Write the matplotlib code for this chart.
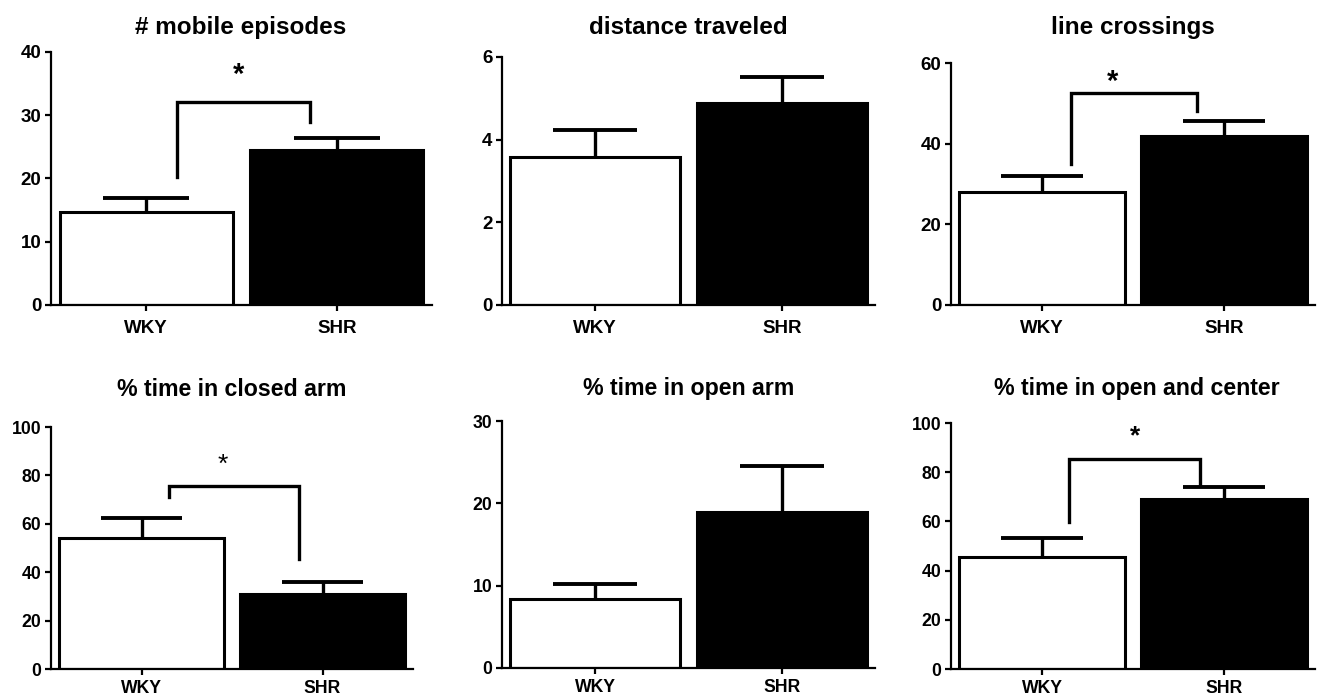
import numpy as np
import matplotlib
matplotlib.use("Agg")
import matplotlib.pyplot as plt

plt.rcParams['font.family'] = ['Liberation Sans', 'DejaVu Sans']
plt.rcParams['font.weight'] = 'bold'

groups = ["WKY", "SHR"]
titles = ["# mobile episodes", "distance traveled", "line crossings",
          "% time in closed arm", "% time in open arm", "% time in open and center"]

mobile_mean = [14.7, 24.5]
mobile_err = [2.2, 1.9]
distance_mean = [3.59, 4.88]
distance_err = [0.64, 0.64]
crossings_mean = [27.9, 42.0]
crossings_err = [4.1, 3.7]
closed_mean = [54.1, 31.0]
closed_err = [8.2, 5.1]
open_mean = [8.36, 18.97]
open_err = [1.84, 5.53]
center_mean = [45.7, 69.1]
center_err = [7.7, 4.9]

y_max = [40, 6, 60, 100, 30, 100]
y_step = [10, 2, 20, 20, 10, 20]

# significance brackets: (top y, left leg end, right leg end, star y)
brackets = {
    0: (32.1, 20.3, 28.9, 36.4),
    2: (52.5, 34.9, 48.2, 55.2),
    3: (75.8, 71.0, 45.4, 84.3),
    5: (85.5, 59.7, 75.3, 94.7),
}

means = [mobile_mean, distance_mean, crossings_mean, closed_mean, open_mean, center_mean]
errs = [mobile_err, distance_err, crossings_err, closed_err, open_err, center_err]

# axes boxes in pixels: left, right, top, bottom
boxes = [(51, 432, 52, 305), (502, 875, 57, 305), (951, 1315, 63, 305),
         (51, 413, 427, 669), (502, 875, 421, 668), (951, 1315, 423, 669)]
bracket_x = {0: (0.16, 0.86, 0.485), 2: (0.16, 0.85, 0.39),
             3: (0.15, 0.87, 0.45), 5: (0.15, 0.87, 0.51)}
title_x = [241, 688, 1133, 232, 689, 1137]
title_base = [34, 34, 34, 396, 395, 395]

W, H = 1320, 697
fig = plt.figure(figsize=(W / 100, H / 100), dpi=100)
lw = 2.2

for i in range(6):
    l, r, t, b = boxes[i]
    top_row = i < 3
    ax = fig.add_axes([l / W, 1 - b / H, (r - l) / W, (b - t) / H])
    x = np.arange(len(groups))
    m = np.array(means[i])
    e = np.array(errs[i])
    ax.bar(x, m, width=0.91, color=['white', 'black'], edgecolor='black', linewidth=lw, zorder=2)
    ax.vlines(x, m, m + e, color='black', linewidth=2.4, zorder=1)
    ax.hlines(m + e, x - 0.225, x + 0.225, color='black', linewidth=2.8, zorder=1)

    if i in brackets:
        yt, yl, yr, ys = brackets[i]
        xl, xr, xs = bracket_x[i]
        ax.plot([xl, xl, xr, xr], [yl, yt, yt, yr], color='black', linewidth=2.4,
                solid_joinstyle='miter', clip_on=False)
        ax.text(xs, ys, "*", ha='center', va='center', fontsize=21 if top_row else 19,
                fontweight='normal' if i == 3 else 'bold')

    ax.set_xlim(-0.5, 1.5)
    ax.set_ylim(0, y_max[i])
    ax.set_yticks(np.arange(0, y_max[i] + 0.001, y_step[i]))
    ax.set_xticks(x)
    ax.set_xticklabels(groups)
    fig.text(title_x[i] / W, 1 - title_base[i] / H, titles[i], ha='center', va='baseline',
             fontsize=17.5 if top_row else 16.7, fontweight='bold')
    for s in ['top', 'right']:
        ax.spines[s].set_visible(False)
    for s in ['left', 'bottom']:
        ax.spines[s].set_linewidth(1.6)
        ax.spines[s].set_zorder(3)
    fs = 13.5 if top_row else 12.7
    ax.tick_params(width=1.6, length=4.5, labelsize=fs)
    ax.tick_params(axis='y', pad=2.5)
    ax.tick_params(axis='x', pad=6 if top_row else 3.5)
    for lab in ax.get_xticklabels() + ax.get_yticklabels():
        lab.set_fontweight('bold')

fig.savefig("out.png", dpi=100)
